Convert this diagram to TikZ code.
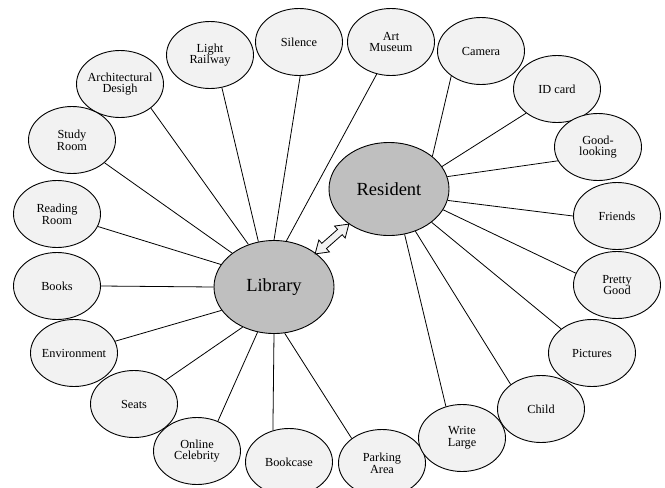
\documentclass[tikz,border=0pt]{standalone}
\usepackage{fontspec}
\setmainfont{Liberation Serif}
\usetikzlibrary{shapes.geometric}
\definecolor{smallfill}{HTML}{F2F2F2}
\definecolor{bigfill}{HTML}{BFBFBF}
\tikzset{
  small/.style={ellipse, draw=black, line width=0.9pt, fill=smallfill,
    minimum width=87pt, minimum height=67pt, inner sep=0pt,
    label={[align=center, font=\fontsize{12.3}{11.8}\selectfont, inner sep=0pt]center:#1}},
  big/.style={ellipse, draw=black, line width=0.9pt, fill=bigfill,
    minimum width=120pt, minimum height=93pt, inner sep=0pt,
    label={[font=\fontsize{18.5}{20}\selectfont, inner sep=0pt]center:#1}},
  link/.style={draw=black, line width=0.8pt},
  blockarrow/.style={draw=black, line width=0.8pt, fill=smallfill, line join=miter}
}
\begin{document}
\begin{tikzpicture}[x=1pt, y=-1pt]
\clip (0,0) rectangle (665,488);
\fill[white] (0,0) rectangle (665,488);
\node[big=Library] (lib) at (274,287) {};
\node[big=Resident] (res) at (389,189) {};
% small nodes
\node[small={Light\\Railway}] (lr) at (210,55) {};
\node[small={Silence}] (sil) at (299,42) {};
\node[small={Architectural\\Desigh}] (arch) at (120,84) {};
\node[small={Study\\Room}] (study) at (72,140) {};
\node[small={Reading\\Room}] (read) at (57,214) {};
\node[small={Books}] (books) at (57,286) {};
\node[small={Environment}] (env) at (74,353) {};
\node[small={Seats}] (seats) at (134,404) {};
\node[small={Online\\Celebrity}] (celeb) at (197,451) {};
\node[small={Bookcase}] (bookcase) at (289,462) {};
\node[small={Parking\\Area}] (park) at (382,463) {};
\node[small={Art\\Museum}] (art) at (391,42) {};
\node[small={Camera}] (cam) at (481,51) {};
\node[small={ID card}] (idc) at (557,89) {};
\node[small={Good-\\looking}] (good) at (598,147) {};
\node[small={Friends}] (friends) at (617,216) {};
\node[small={Pretty\\Good}] (pretty) at (617,285) {};
\node[small={Pictures}] (pict) at (592,353) {};
\node[small={Child}] (child) at (541,409) {};
\node[small={Write\\Large}] (write) at (462,438) {};
% library links
\draw[link] (lib.157) -- (read.343);
\draw[link] (lib.141) -- (study.325);
\draw[link] (lib.121) -- (arch.322);
\draw[link] (lib.109) -- (lr.290);
\draw[link] (lib.90) -- (sil.272);
\draw[link] (lib.75) -- (art.246);
\draw[link] (lib.180) -- (books.0);
\draw[link] (lib.204) -- (env.16);
\draw[link] (lib.232) -- (seats.37);
\draw[link] (lib.250) -- (celeb.55);
\draw[link] (lib.270) -- (bookcase.117);
\draw[link] (lib.283) -- (park.141);
% resident links
\draw[link] (res.37) -- (cam.220);
\draw[link] (res.23.5) -- (idc.218);
\draw[link] (res.12) -- (good.199);
\draw[link] (res.349) -- (friends.180);
\draw[link] (res.339) -- (pretty.164);
\draw[link] (res.322) -- (pict.142);
\draw[link] (res.302) -- (child.141);
\draw[link] (res.289) -- (write.117);
% double block arrow between Library and Resident
\begin{scope}[shift={(332,239)}, x={(0.75pt,0.662pt)}, y={(-0.662pt,0.75pt)}]
\draw[blockarrow] (22.5,0) -- (10.5,8) -- (10.5,3.5) -- (-10.5,3.5) -- (-10.5,8)
  -- (-22.5,0) -- (-10.5,-8) -- (-10.5,-3.5) -- (10.5,-3.5) -- (10.5,-8) -- cycle;
\end{scope}
\end{tikzpicture}
\end{document}
